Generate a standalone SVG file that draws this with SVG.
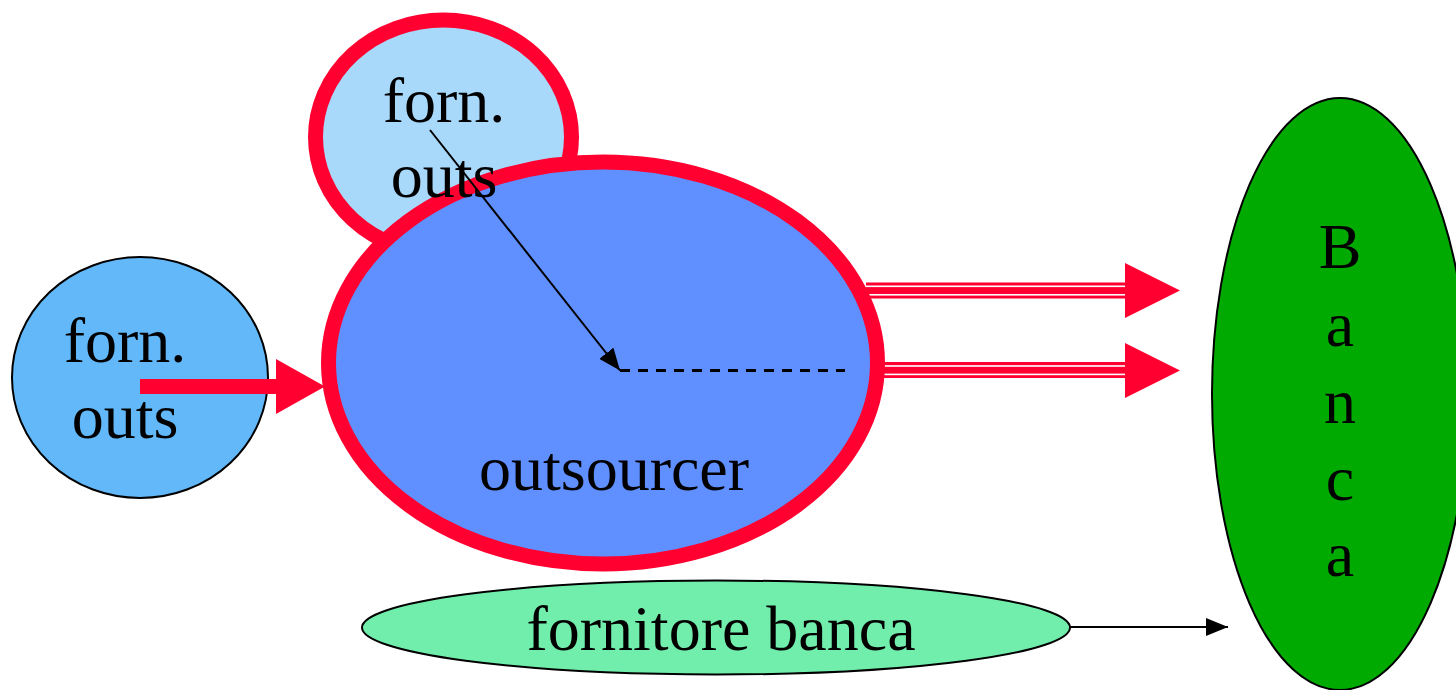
<svg xmlns="http://www.w3.org/2000/svg" width="1456" height="690" viewBox="0 0 1456 690">
  <style>
    .lbl { font-family: "Liberation Serif", "Times New Roman", serif; font-size: 64px; fill: #000; text-anchor: middle; }
    .red-ring { stroke: #ff0030; stroke-width: 15; }
    .thin { stroke: #000; stroke-width: 2; }
    .red { fill: #ff0030; }
  </style>
  <defs>
    <marker id="blackHead" viewBox="0 0 22 18" refX="22" refY="9" markerWidth="22" markerHeight="18" markerUnits="userSpaceOnUse" orient="auto">
      <path d="M0,0 L22,9 L0,18 Z" fill="#000"/>
    </marker>
  </defs>

  <rect width="1456" height="690" fill="#fff"/>

  <!-- left supplier -->
  <g id="forn-outs-left">
    <ellipse cx="140" cy="377.5" rx="128" ry="120.5" fill="#62b8f8" class="thin"/>
    <text class="lbl" x="125" y="362">forn.</text>
    <text class="lbl" x="125" y="438">outs</text>
  </g>

  <!-- top supplier (shape drawn beneath the outsourcer) -->
  <g id="forn-outs-top">
    <ellipse cx="443.5" cy="137" rx="128" ry="117" fill="#a8d8fa" class="red-ring"/>
  </g>

  <!-- connectors that run behind the outsourcer ring -->
  <g id="connectors-back">
    <!-- triple-line arrows to Banca -->
    <rect x="866" y="282.5" width="260" height="16" class="red"/>
    <rect x="866" y="285.5" width="260" height="1.6" fill="#fff"/>
    <rect x="866" y="294" width="260" height="1.6" fill="#fff"/>
    <polygon points="1125,263 1180,290.5 1125,318" class="red"/>

    <rect x="880" y="362" width="246" height="16" class="red"/>
    <rect x="880" y="365.2" width="246" height="1.6" fill="#fff"/>
    <rect x="880" y="373.6" width="246" height="1.6" fill="#fff"/>
    <polygon points="1125,343 1180,370.5 1125,398" class="red"/>
  </g>

  <!-- outsourcer -->
  <g id="outsourcer">
    <ellipse cx="603" cy="363" rx="274.5" ry="201" fill="#608fff" class="red-ring"/>
    <text class="lbl" x="614" y="490">outsourcer</text>
  </g>

  <!-- top supplier label sits above the outsourcer ring -->
  <g id="forn-outs-top-label">
    <text class="lbl" x="444" y="122">forn.</text>
    <text class="lbl" x="444" y="197">outs</text>
  </g>

  <!-- bank supplier -->
  <g id="fornitore-banca">
    <ellipse cx="716" cy="627.5" rx="354" ry="47" fill="#72eeac" class="thin"/>
    <text class="lbl" x="721" y="650">fornitore banca</text>
  </g>

  <!-- bank -->
  <g id="banca">
    <ellipse cx="1340" cy="394" rx="128" ry="296" fill="#00aa00" class="thin"/>
    <text class="lbl" x="1340" y="268">B</text>
    <text class="lbl" x="1340" y="346">a</text>
    <text class="lbl" x="1340" y="423">n</text>
    <text class="lbl" x="1340" y="500">c</text>
    <text class="lbl" x="1340" y="576">a</text>
  </g>

  <!-- connectors drawn on top -->
  <g id="connectors">
    <!-- thick red arrow from the left supplier -->
    <rect x="140" y="379" width="137" height="15" class="red"/>
    <polygon points="276,359 325,386.5 276,414" class="red"/>

    <!-- diagonal arrow from the top supplier into the outsourcer -->
    <line x1="430" y1="130" x2="620" y2="370.5" class="thin" marker-end="url(#blackHead)"/>
    <!-- dashed line inside the outsourcer -->
    <line x1="620" y1="370.5" x2="845" y2="370.5" stroke="#000" stroke-width="3" stroke-dasharray="10 8"/>

    <!-- bank supplier to bank -->
    <line x1="1070" y1="627" x2="1228" y2="627" class="thin" marker-end="url(#blackHead)"/>
  </g>
</svg>
